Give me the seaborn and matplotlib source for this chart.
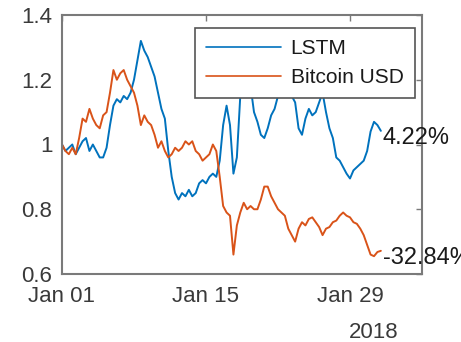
import numpy as np
import pandas as pd
import matplotlib
matplotlib.use("Agg")
import matplotlib.pyplot as plt
import matplotlib.dates as mdates
import seaborn as sns

# Normalised value of each series, sampled every 8 hours from 2018-01-01
lstm = [1.00, 0.98, 0.99, 1.00, 0.97, 0.99, 1.01, 1.02, 0.98, 1.00,
        0.98, 0.96, 0.96, 0.99, 1.06, 1.12, 1.14, 1.13, 1.15, 1.14,
        1.16, 1.20, 1.26, 1.32, 1.29, 1.27, 1.24, 1.21, 1.16, 1.11,
        1.08, 0.98, 0.90, 0.85, 0.83, 0.85, 0.84, 0.86, 0.84, 0.85,
        0.88, 0.89, 0.88, 0.90, 0.91, 0.90, 0.95, 1.06, 1.12, 1.06,
        0.91, 0.96, 1.15, 1.19, 1.15, 1.18, 1.10, 1.07, 1.03, 1.02,
        1.05, 1.09, 1.11, 1.15, 1.17, 1.16, 1.19, 1.15, 1.13, 1.05,
        1.03, 1.08, 1.11, 1.09, 1.10, 1.13, 1.16, 1.10, 1.05, 1.02,
        0.96, 0.95, 0.93, 0.91, 0.895, 0.92, 0.93, 0.94, 0.95, 0.98,
        1.04, 1.07, 1.06, 1.0422]

bitcoin = [1.00, 0.98, 0.97, 0.99, 0.97, 1.02, 1.08, 1.07, 1.11, 1.08,
           1.06, 1.05, 1.09, 1.10, 1.16, 1.23, 1.20, 1.22, 1.23, 1.20,
           1.18, 1.16, 1.12, 1.06, 1.09, 1.07, 1.06, 1.03, 0.99, 1.01,
           0.98, 0.96, 0.97, 0.99, 0.98, 0.99, 1.01, 1.00, 1.01, 0.98,
           0.97, 0.95, 0.96, 0.97, 1.00, 0.98, 0.90, 0.81, 0.79, 0.78,
           0.66, 0.75, 0.79, 0.82, 0.80, 0.81, 0.80, 0.80, 0.83, 0.87,
           0.87, 0.84, 0.82, 0.80, 0.79, 0.78, 0.74, 0.72, 0.70, 0.74,
           0.76, 0.75, 0.77, 0.775, 0.76, 0.745, 0.72, 0.74, 0.745, 0.76,
           0.765, 0.78, 0.79, 0.78, 0.775, 0.76, 0.755, 0.74, 0.72, 0.69,
           0.66, 0.655, 0.668, 0.6716]

series_names = ["LSTM", "Bitcoin USD"]
series_colors = ["#0072BD", "#D95319"]
y_ticks = [0.6, 0.8, 1.0, 1.2, 1.4]
y_tick_labels = ["0.6", "0.8", "1", "1.2", "1.4"]
x_tick_dates = ["2018-01-01", "2018-01-15", "2018-01-29"]

times = pd.date_range("2018-01-01", periods=len(lstm), freq="8h")
df = pd.DataFrame({
    "time": np.concatenate([times, times]),
    "value": lstm + bitcoin,
    "series": [series_names[0]] * len(lstm) + [series_names[1]] * len(bitcoin),
})

sns.set_style("white")
plt.rcParams["font.family"] = ["Liberation Sans", "DejaVu Sans"]

fig = plt.figure(figsize=(4.61, 3.42), dpi=100)
ax = fig.add_axes([62 / 461, 68 / 342, 360 / 461, 259 / 342])

sns.lineplot(data=df, x="time", y="value", hue="series",
             palette=dict(zip(series_names, series_colors)),
             linewidth=1.4, ax=ax, legend=False)

ax.set_xlim(pd.Timestamp("2018-01-01"), pd.Timestamp("2018-02-05"))
ax.set_ylim(0.6, 1.4)
ax.set_yticks(y_ticks)
ax.set_yticklabels(y_tick_labels)
ax.set_xticks(pd.to_datetime(x_tick_dates))
ax.xaxis.set_major_formatter(mdates.DateFormatter("%b %d"))
ax.set_xlabel("")
ax.set_ylabel("")

text_color = "#3a3a3a"
spine_color = "#7a7a7a"
for sp in ax.spines.values():
    sp.set_visible(True)
    sp.set_color(spine_color)
    sp.set_linewidth(1.5)
ax.tick_params(axis="both", direction="in", length=4, width=1,
               color=spine_color, labelcolor=text_color, labelsize=16,
               top=True, right=True)
ax.tick_params(axis="y", pad=7)
ax.tick_params(axis="x", pad=9)

# Year label below the last date tick
ax.text((374 - 62) / 360, -(338 - 274) / 259, "2018", transform=ax.transAxes,
        ha="center", va="baseline", fontsize=16, color=text_color)

# Legend
handles = [plt.Line2D([], [], color=c, linewidth=1.2) for c in series_colors]
leg = ax.legend(handles, series_names, loc="upper right",
                bbox_to_anchor=((415 - 62) / 360, (274 - 28) / 259),
                borderaxespad=0, fontsize=15, handlelength=3.6,
                handletextpad=0.45, labelspacing=0.45, borderpad=0.55,
                frameon=True, fancybox=False, framealpha=1)
leg.get_frame().set_edgecolor("#555555")
leg.get_frame().set_linewidth(1.2)
for t in leg.get_texts():
    t.set_color("#1a1a1a")

# Final return of each series, written next to its last point
for vals in (lstm, bitcoin):
    ret = (vals[-1] - 1) * 100
    ax.annotate(f"{ret:.2f}%", xy=(times[-1], vals[-1]),
                xytext=(2, -7), textcoords="offset pixels",
                ha="left", va="center", fontsize=17, color="#1a1a1a",
                annotation_clip=False)

fig.savefig("out.png", dpi=100)
